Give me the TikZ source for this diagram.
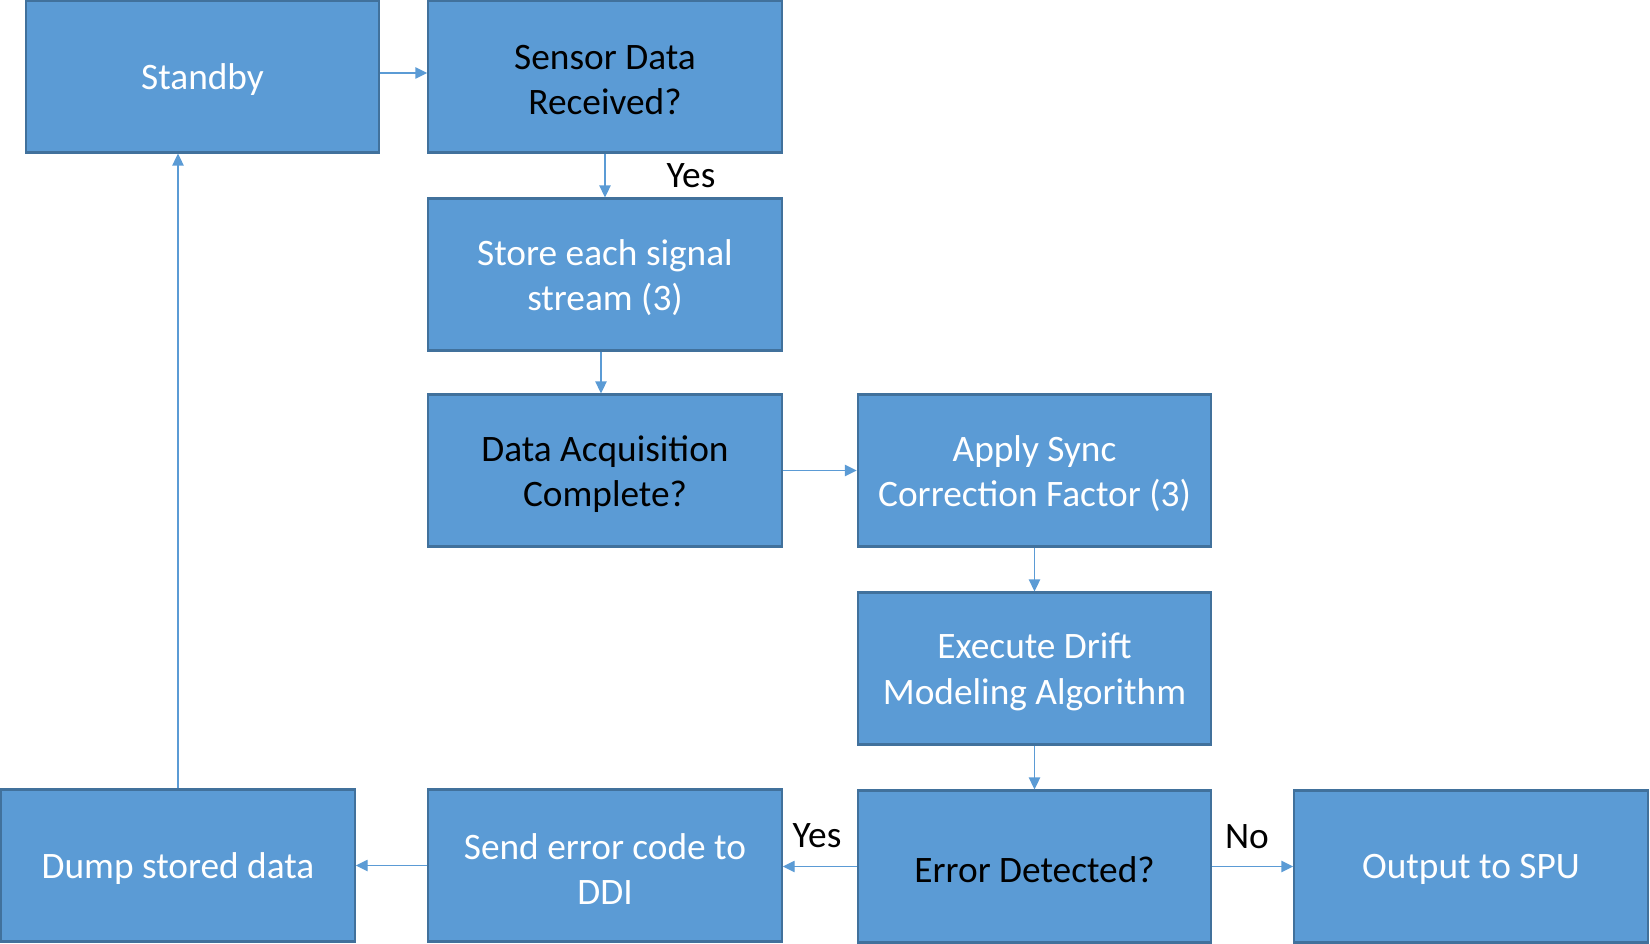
\documentclass[tikz,border=0pt]{standalone}
\usepackage{fontspec}
\setmainfont{Carlito}
\usetikzlibrary{arrows.meta}
\definecolor{boxfill}{HTML}{5B9BD5}
\definecolor{boxline}{HTML}{41719C}
\definecolor{arrowc}{HTML}{5B9BD5}
\begin{document}
\begin{tikzpicture}[x=0.75pt,y=-0.75pt,
  box/.style={draw=boxline, line width=1.6pt, fill=boxfill, rectangle,
    minimum width=265pt, minimum height=114pt, inner sep=0pt},
  txt/.style={align=center, inner sep=0pt, yshift=-2.5pt,
    font=\fontsize{28}{34}\selectfont, text=white},
  dark/.style={text=black},
  conn/.style={draw=arrowc, line width=1.1pt, -{Triangle[length=9pt,width=8.5pt]}},
  lbl/.style={font=\fontsize{28}{34}\selectfont, text=black, inner sep=0pt}]
\useasboundingbox (0,0) rectangle (1650,944);
\node[box,label={[txt]center:Standby}] (standby) at (202.5,76.5) {};
\node[box,label={[txt,dark]center:Sensor Data\\Received?}] (sensor) at (605,76.5) {};
\node[box,label={[txt]center:Store each signal\\stream (3)}] (store) at (605,274.5) {};
\node[box,label={[txt,dark]center:Data Acquisition\\Complete?}] (acq) at (605,470.5) {};
\node[box,label={[txt]center:Apply Sync\\Correction Factor (3)}] (sync) at (1034.5,470.5) {};
\node[box,label={[txt]center:Execute Drift\\Modeling Algorithm}] (drift) at (1034.5,668.5) {};
\node[box,label={[txt,dark]center:Error Detected?}] (err) at (1034.5,866.5) {};
\node[box,label={[txt]center:Output to SPU}] (out) at (1471,866.5) {};
\node[box,label={[txt]center:Send error code to\\DDI}] (send) at (605,865.5) {};
\node[box,label={[txt]center:Dump stored data}] (dump) at (178,865.5) {};
\draw[conn] (standby.east |- 0,73) -- (sensor.west |- 0,73);
\draw[conn] (sensor.south) -- (store.north);
\draw[conn] (store.south -| 601,0) -- (acq.north -| 601,0);
\draw[conn] (acq.east) -- (sync.west);
\draw[conn] (sync.south) -- (drift.north);
\draw[conn] (drift.south) -- (err.north);
\draw[conn] (err.west) -- (send.east |- err.west);
\draw[conn] (err.east) -- (out.west);
\draw[conn] (send.west) -- (dump.east);
\draw[conn] (dump.north) -- (standby.south -| dump.north);
\node[lbl] (yes1) at (691,176) {Yes};
\node[lbl] (yes2) at (817,836) {Yes};
\node[lbl] (no) at (1247,837) {No};
\end{tikzpicture}
\end{document}
